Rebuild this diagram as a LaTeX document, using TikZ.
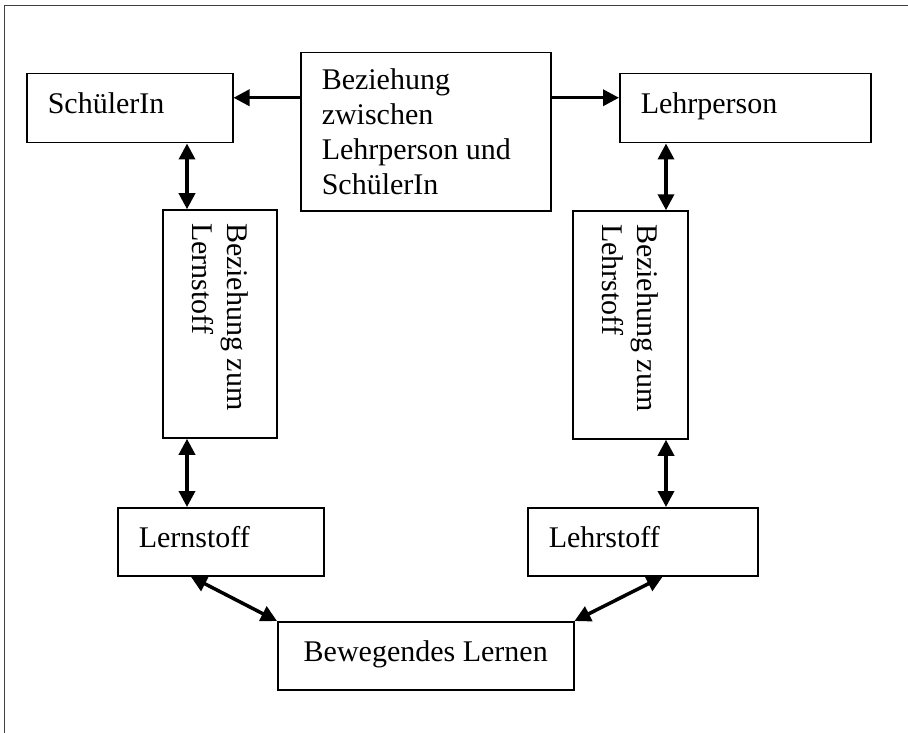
\documentclass[tikz,border=0pt]{standalone}
\usepackage{fontspec}
\setmainfont{Liberation Serif}
\usetikzlibrary{arrows.meta}

\begin{document}
\begin{tikzpicture}[x=1pt, y=-1pt,
  kasten/.style={draw, line width=1.5pt, align=flush left, inner xsep=21pt, inner ysep=0pt,
    font=\fontsize{30}{35}\selectfont},
  zeile/.style={text height=20.5pt, text depth=9.5pt},
  pfeil/.style={{Triangle[length=16pt,width=16pt]}-{Triangle[length=16pt,width=16pt]}, line width=3.5pt},
  einpfeil/.style={-{Triangle[length=16pt,width=16pt]}, line width=3.5pt}]
\useasboundingbox (0,0) rectangle (908,733);
% Rahmen
\draw[line width=1pt, black!75] (4,733) -- (4,6) -- (908,6);
% Obere Reihe
\node[kasten, zeile, text width=164pt, minimum height=69pt, anchor=north west] (schueler) at (26,73) {SchülerIn};
\node[kasten, text width=208pt, minimum height=158pt, anchor=north west] (beziehung) at (300,52)
  {Beziehung\\zwischen\\Lehrperson und\\SchülerIn};
\node[kasten, zeile, text width=209pt, minimum height=69pt, anchor=north west] (lehrer) at (619,73) {Lehrperson};
% Senkrechte Kästen
\node[kasten, rotate=-90, inner xsep=13pt, text width=202pt, minimum height=114pt] (bzl) at (220,324)
  {Beziehung zum\\Lernstoff};
\node[kasten, rotate=-90, inner xsep=13pt, text width=202pt, minimum height=115pt] (bzr) at (630.5,325)
  {Beziehung zum\\Lehrstoff};
% Untere Kästen
\node[kasten, zeile, text width=164pt, minimum height=68pt, anchor=north west] (lernstoff) at (117,507) {Lernstoff};
\node[kasten, zeile, text width=188pt, minimum height=68pt, anchor=north west] (lehrstoff) at (527,507) {Lehrstoff};
\node[kasten, zeile, align=flush center, inner xsep=23pt, text width=250pt, minimum height=68pt, anchor=north west] (bewegen) at (277,621)
  {Bewegendes Lernen};
% Pfeile oben
\coordinate (ol) at ([yshift=10.5pt]schueler.east);
\coordinate (or) at ([yshift=10.5pt]lehrer.west);
\draw[einpfeil] (beziehung.west |- ol) -- (ol);
\draw[einpfeil] (beziehung.east |- or) -- (or);
% Pfeile senkrecht
\coordinate (xl) at (187,0);
\coordinate (xr) at (666,0);
\draw[pfeil] (schueler.south -| xl) -- (bzl.west -| xl);
\draw[pfeil] (bzl.east -| xl) -- (lernstoff.north -| xl);
\draw[pfeil] (lehrer.south -| xr) -- (bzr.west -| xr);
\draw[pfeil] (bzr.east -| xr) -- (lehrstoff.north -| xr);
% Pfeile schraeg
\draw[pfeil] ([xshift=-30pt]lernstoff.south) -- (bewegen.north west);
\draw[pfeil] ([xshift=20pt]lehrstoff.south) -- (bewegen.north east);
\end{tikzpicture}
\end{document}
